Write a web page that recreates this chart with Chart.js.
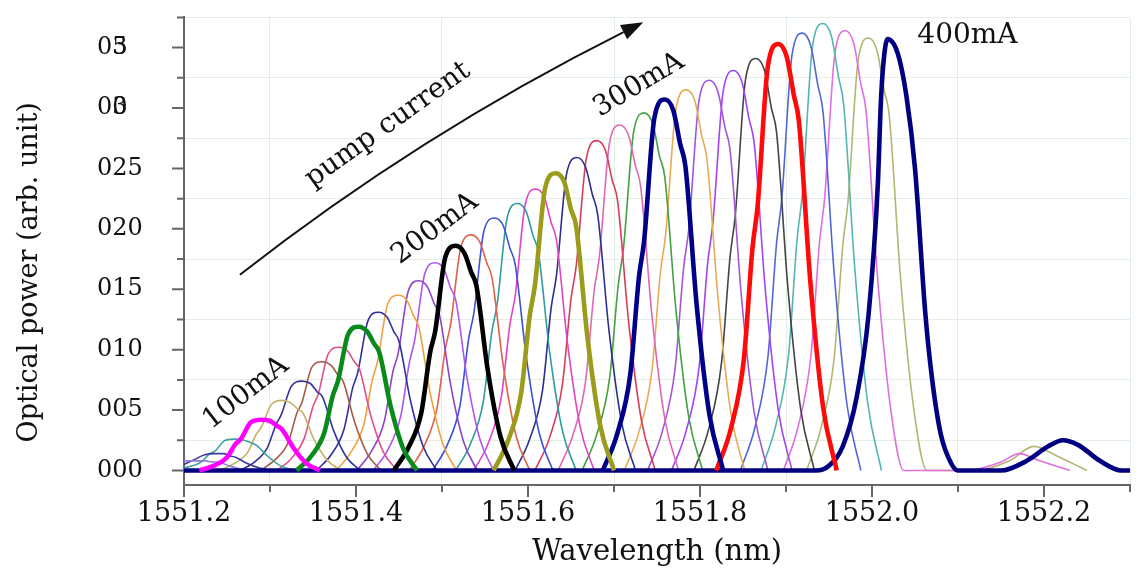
<!DOCTYPE html>
<html>
<head>
<meta charset="utf-8">
<title>Optical power vs wavelength</title>
<script src="https://cdn.jsdelivr.net/npm/chart.js@4.4.1/dist/chart.umd.min.js"></script>
<style>
html, body { margin: 0; padding: 0; background: #fff; }
#wrap { width: 1143px; height: 572px; }
</style>
</head>
<body>
<div id="wrap"><canvas id="spectraChart"></canvas></div>
<script>
// pump currents (mA), one spectrum each
const currents = [70, 80, 90, 100, 110, 120, 130, 140, 150, 160, 170, 180, 190, 200, 210, 220, 230, 240,
    250, 260, 270, 280, 290, 300, 310, 320, 330, 340, 350, 360, 370, 380, 390, 400];

// wavelength samples (nm) for each spectrum
const wavelengths = [
    [1551.143, 1551.160, 1551.175, 1551.185, 1551.191, 1551.203, 1551.215, 1551.225, 1551.233, 1551.239, 1551.252, 1551.267, 1551.283],
    [1551.164, 1551.181, 1551.196, 1551.206, 1551.212, 1551.224, 1551.236, 1551.246, 1551.254, 1551.260, 1551.273, 1551.288, 1551.304],
    [1551.188, 1551.205, 1551.220, 1551.230, 1551.236, 1551.248, 1551.260, 1551.270, 1551.278, 1551.284, 1551.297, 1551.312, 1551.328],
    [1551.218, 1551.235, 1551.250, 1551.260, 1551.266, 1551.278, 1551.290, 1551.300, 1551.308, 1551.314, 1551.327, 1551.342, 1551.358],
    [1551.242, 1551.259, 1551.274, 1551.284, 1551.290, 1551.302, 1551.314, 1551.324, 1551.332, 1551.338, 1551.351, 1551.366, 1551.382],
    [1551.265, 1551.282, 1551.297, 1551.307, 1551.313, 1551.325, 1551.337, 1551.347, 1551.355, 1551.361, 1551.374, 1551.389, 1551.405],
    [1551.289, 1551.306, 1551.321, 1551.331, 1551.337, 1551.349, 1551.361, 1551.371, 1551.379, 1551.385, 1551.398, 1551.413, 1551.429],
    [1551.308, 1551.325, 1551.340, 1551.350, 1551.356, 1551.368, 1551.380, 1551.390, 1551.398, 1551.404, 1551.417, 1551.432, 1551.448],
    [1551.331, 1551.348, 1551.363, 1551.373, 1551.379, 1551.391, 1551.403, 1551.413, 1551.421, 1551.427, 1551.440, 1551.455, 1551.471],
    [1551.354, 1551.371, 1551.386, 1551.396, 1551.402, 1551.414, 1551.426, 1551.436, 1551.444, 1551.450, 1551.463, 1551.478, 1551.494],
    [1551.377, 1551.394, 1551.409, 1551.419, 1551.425, 1551.437, 1551.449, 1551.459, 1551.467, 1551.473, 1551.486, 1551.501, 1551.517],
    [1551.401, 1551.418, 1551.433, 1551.443, 1551.449, 1551.461, 1551.473, 1551.483, 1551.491, 1551.497, 1551.510, 1551.525, 1551.541],
    [1551.420, 1551.437, 1551.452, 1551.462, 1551.468, 1551.480, 1551.492, 1551.502, 1551.510, 1551.516, 1551.529, 1551.544, 1551.560],
    [1551.444, 1551.461, 1551.476, 1551.486, 1551.492, 1551.504, 1551.516, 1551.526, 1551.534, 1551.540, 1551.553, 1551.568, 1551.584],
    [1551.462, 1551.479, 1551.494, 1551.504, 1551.510, 1551.522, 1551.534, 1551.544, 1551.552, 1551.558, 1551.571, 1551.586, 1551.602],
    [1551.489, 1551.506, 1551.521, 1551.531, 1551.537, 1551.549, 1551.561, 1551.571, 1551.579, 1551.585, 1551.598, 1551.613, 1551.629],
    [1551.516, 1551.533, 1551.548, 1551.558, 1551.564, 1551.576, 1551.588, 1551.598, 1551.606, 1551.612, 1551.625, 1551.640, 1551.656],
    [1551.537, 1551.554, 1551.569, 1551.579, 1551.585, 1551.597, 1551.609, 1551.619, 1551.627, 1551.633, 1551.646, 1551.661, 1551.677],
    [1551.560, 1551.577, 1551.592, 1551.602, 1551.608, 1551.620, 1551.632, 1551.642, 1551.650, 1551.656, 1551.669, 1551.684, 1551.700],
    [1551.585, 1551.602, 1551.617, 1551.627, 1551.633, 1551.645, 1551.657, 1551.667, 1551.675, 1551.681, 1551.694, 1551.709, 1551.725],
    [1551.608, 1551.625, 1551.640, 1551.650, 1551.656, 1551.668, 1551.680, 1551.690, 1551.698, 1551.704, 1551.717, 1551.732, 1551.748],
    [1551.635, 1551.652, 1551.667, 1551.677, 1551.683, 1551.695, 1551.707, 1551.717, 1551.725, 1551.731, 1551.744, 1551.759, 1551.775],
    [1551.663, 1551.680, 1551.695, 1551.705, 1551.711, 1551.723, 1551.735, 1551.745, 1551.753, 1551.759, 1551.772, 1551.787, 1551.803],
    [1551.687, 1551.704, 1551.719, 1551.729, 1551.735, 1551.747, 1551.759, 1551.769, 1551.777, 1551.783, 1551.796, 1551.811, 1551.827],
    [1551.712, 1551.729, 1551.744, 1551.754, 1551.760, 1551.772, 1551.784, 1551.794, 1551.802, 1551.808, 1551.821, 1551.836, 1551.852],
    [1551.739, 1551.756, 1551.771, 1551.781, 1551.787, 1551.799, 1551.811, 1551.821, 1551.829, 1551.835, 1551.848, 1551.863, 1551.879],
    [1551.767, 1551.784, 1551.799, 1551.809, 1551.815, 1551.827, 1551.839, 1551.849, 1551.857, 1551.863, 1551.876, 1551.891, 1551.907],
    [1551.793, 1551.810, 1551.825, 1551.835, 1551.841, 1551.853, 1551.865, 1551.875, 1551.883, 1551.889, 1551.902, 1551.917, 1551.933],
    [1551.819, 1551.836, 1551.851, 1551.861, 1551.867, 1551.879, 1551.891, 1551.901, 1551.909, 1551.915, 1551.928, 1551.943, 1551.959],
    [1551.847, 1551.864, 1551.879, 1551.889, 1551.895, 1551.907, 1551.919, 1551.929, 1551.937, 1551.943, 1551.956, 1551.971, 1551.987],
    [1551.871, 1551.888, 1551.903, 1551.913, 1551.919, 1551.931, 1551.943, 1551.953, 1551.961, 1551.967, 1551.980, 1551.995, 1552.011],
    [1551.897, 1551.914, 1551.929, 1551.939, 1551.945, 1551.957, 1551.969, 1551.979, 1551.987, 1551.993, 1552.006, 1552.021, 1552.037,
        1552.110, 1552.150, 1552.171, 1552.195, 1552.230],
    [1551.924, 1551.941, 1551.956, 1551.966, 1551.972, 1551.984, 1551.996, 1552.006, 1552.014, 1552.020, 1552.033, 1552.048, 1552.064,
        1552.120, 1552.160, 1552.188, 1552.215, 1552.250],
    [1551.200, 1551.935, 1551.950, 1551.966, 1551.982, 1551.996, 1552.007, 1552.010, 1552.013, 1552.018, 1552.030, 1552.040, 1552.050,
        1552.062, 1552.070, 1552.080, 1552.092, 1552.100, 1552.150, 1552.180, 1552.205, 1552.222, 1552.240, 1552.265, 1552.290, 1552.300]
];

// optical power (arb. unit) at those wavelengths
const powers = [
    [0, 0.001, 0.002, 0.004, 0.005, 0.008, 0.008, 0.008, 0.007, 0.007, 0.004, 0.001, 0],
    [0, 0.001, 0.004, 0.007, 0.009, 0.013, 0.014, 0.014, 0.012, 0.011, 0.006, 0.002, 0],
    [0, 0.003, 0.007, 0.014, 0.016, 0.025, 0.026, 0.025, 0.023, 0.021, 0.012, 0.004, 0],
    [0, 0.004, 0.011, 0.022, 0.026, 0.040, 0.042, 0.041, 0.037, 0.034, 0.019, 0.006, 0],
    [0, 0.006, 0.015, 0.030, 0.036, 0.055, 0.058, 0.056, 0.051, 0.048, 0.026, 0.009, 0],
    [0, 0.007, 0.019, 0.038, 0.046, 0.070, 0.074, 0.072, 0.065, 0.061, 0.033, 0.011, 0],
    [0, 0.009, 0.023, 0.047, 0.056, 0.086, 0.090, 0.087, 0.079, 0.074, 0.041, 0.014, 0],
    [0, 0.010, 0.027, 0.053, 0.063, 0.097, 0.102, 0.099, 0.090, 0.084, 0.046, 0.015, 0],
    [0, 0.012, 0.031, 0.062, 0.074, 0.113, 0.119, 0.115, 0.105, 0.098, 0.054, 0.018, 0],
    [0, 0.013, 0.034, 0.068, 0.081, 0.124, 0.131, 0.127, 0.115, 0.107, 0.059, 0.020, 0],
    [0, 0.015, 0.038, 0.075, 0.090, 0.138, 0.145, 0.141, 0.128, 0.119, 0.065, 0.022, 0],
    [0, 0.016, 0.041, 0.082, 0.097, 0.149, 0.157, 0.152, 0.138, 0.129, 0.071, 0.024, 0],
    [0, 0.017, 0.045, 0.089, 0.107, 0.163, 0.172, 0.167, 0.151, 0.141, 0.077, 0.026, 0],
    [0, 0.019, 0.048, 0.097, 0.115, 0.177, 0.186, 0.180, 0.164, 0.153, 0.084, 0.028, 0],
    [0, 0.020, 0.051, 0.101, 0.121, 0.185, 0.195, 0.189, 0.172, 0.160, 0.088, 0.029, 0],
    [0, 0.021, 0.054, 0.109, 0.130, 0.199, 0.209, 0.203, 0.184, 0.171, 0.094, 0.031, 0],
    [0, 0.022, 0.057, 0.115, 0.137, 0.210, 0.221, 0.214, 0.194, 0.181, 0.099, 0.033, 0],
    [0, 0.023, 0.061, 0.121, 0.144, 0.221, 0.233, 0.226, 0.205, 0.191, 0.105, 0.035, 0],
    [0, 0.025, 0.064, 0.128, 0.153, 0.234, 0.246, 0.239, 0.216, 0.202, 0.111, 0.037, 0],
    [0, 0.026, 0.067, 0.135, 0.161, 0.246, 0.259, 0.251, 0.228, 0.212, 0.117, 0.039, 0],
    [0, 0.027, 0.071, 0.142, 0.169, 0.259, 0.273, 0.265, 0.240, 0.224, 0.123, 0.041, 0],
    [0, 0.029, 0.074, 0.149, 0.177, 0.272, 0.286, 0.277, 0.252, 0.235, 0.129, 0.043, 0],
    [0, 0.030, 0.077, 0.154, 0.184, 0.281, 0.296, 0.287, 0.260, 0.243, 0.133, 0.044, 0],
    [0, 0.031, 0.080, 0.160, 0.190, 0.292, 0.307, 0.298, 0.270, 0.252, 0.138, 0.046, 0],
    [0, 0.032, 0.082, 0.164, 0.195, 0.299, 0.315, 0.306, 0.277, 0.258, 0.142, 0.047, 0],
    [0, 0.032, 0.084, 0.168, 0.200, 0.307, 0.323, 0.313, 0.284, 0.265, 0.145, 0.048, 0],
    [0, 0.033, 0.086, 0.172, 0.205, 0.314, 0.331, 0.321, 0.291, 0.271, 0.149, 0.050, 0],
    [0, 0.034, 0.089, 0.177, 0.211, 0.324, 0.341, 0.331, 0.300, 0.280, 0.153, 0.051, 0],
    [0, 0.035, 0.092, 0.184, 0.219, 0.335, 0.353, 0.342, 0.311, 0.289, 0.159, 0.053, 0],
    [0, 0.036, 0.094, 0.188, 0.224, 0.344, 0.362, 0.351, 0.319, 0.297, 0.163, 0.054, 0],
    [0, 0.037, 0.096, 0.192, 0.229, 0.352, 0.370, 0.359, 0.326, 0.303, 0.167, 0.056, 0],
    [0, 0.036, 0.095, 0.189, 0.226, 0.346, 0.364, 0.353, 0.320, 0.298, 0.164, 0.055, 0,
        0, 0.007, 0.014, 0.008, 0],
    [0, 0.036, 0.093, 0.186, 0.222, 0.340, 0.358, 0.347, 0.315, 0.294, 0.161, 0.054, 0,
        0, 0.008, 0.020, 0.012, 0],
    [0, 0, 0.004, 0.020, 0.060, 0.129, 0.240, 0.300, 0.335, 0.357, 0.345, 0.310, 0.250,
        0.130, 0.075, 0.030, 0.006, 0, 0, 0.008, 0.020, 0.025, 0.021, 0.008, 0, 0]
];

const lineColors = ['#8a7fd0', '#3c3c96', '#3fa0a0', '#ff00ff', '#c8b06a', '#34349a', '#a85a48', '#e0508c',
    '#0a8a1a', '#30309a', '#f0a040', '#8c44c8', '#b055f0', '#000000', '#e0604a', '#3c50d8', '#2e9c9c',
    '#e044c8', '#9c9c1c', '#2e2e90', '#d83c5c', '#e068b0', '#44a044', '#000088', '#e8aa55', '#a255d8',
    '#a044f4', '#444444', '#ff0a0a', '#5266d8', '#55b4b4', '#e070e0', '#b4b474', '#000080'];

// axis ticks
const xMajorTicks = [1551.2, 1551.4, 1551.6, 1551.8, 1552.0, 1552.2];
const xTickText = ['1551.2', '1551.4', '1551.6', '1551.8', '1552.0', '1552.2'];
const xMinorTicks = [1551.3, 1551.5, 1551.7, 1551.9, 1552.1, 1552.3];
const yMajorTicks = [0, 0.05, 0.10, 0.15, 0.20, 0.25, 0.30, 0.35];
const yTickText = ['000', '005', '010', '015', '020', '025', '03', '03'];
const yTickOverprint = ['', '', '', '', '', '', '0', '5'];
const yMinorTicks = [0.025, 0.075, 0.125, 0.175, 0.225, 0.275, 0.325, 0.375];

const notes = [
    { text: '100mA', x: 1551.272, y: 0.064, angle: -38 },
    { text: '200mA', x: 1551.492, y: 0.200, angle: -37 },
    { text: '300mA', x: 1551.729, y: 0.319, angle: -31 },
    { text: '400mA', x: 1552.111, y: 0.360, angle: 0 },
    { text: 'pump current', x: 1551.437, y: 0.286, angle: -35.5 }
];
const arrowPath = { start: [1551.265, 0.162], ctrl: [1551.473, 0.278], end: [1551.734, 0.371] };

const serif = '"DejaVu Serif", "Liberation Serif", serif';
const near = (a, b) => Math.abs(a - b) < 1e-6;
const isIn = (list, v) => list.some(t => near(t, v));

const tickMarks = {
    id: 'tickMarks',
    afterDraw(chart) {
        const { ctx, chartArea, scales } = chart;
        ctx.save();
        ctx.strokeStyle = '#666';
        ctx.lineWidth = 2;
        ctx.beginPath();
        scales.x.ticks.forEach(t => {
            const px = scales.x.getPixelForValue(t.value);
            const len = isIn(xMajorTicks, t.value) ? 12 : 7;
            ctx.moveTo(px, chartArea.bottom);
            ctx.lineTo(px, chartArea.bottom + len);
        });
        scales.y.ticks.forEach(t => {
            const py = scales.y.getPixelForValue(t.value);
            const len = isIn(yMajorTicks, t.value) ? 12 : 7;
            ctx.moveTo(chartArea.left, py);
            ctx.lineTo(chartArea.left - len, py);
        });
        ctx.stroke();

        // the two top labels have their last digits printed on top of each other
        ctx.font = '24px ' + serif;
        ctx.fillStyle = '#111';
        ctx.textAlign = 'left';
        ctx.textBaseline = 'middle';
        const zeroW = ctx.measureText('0').width;
        yMajorTicks.forEach((v, i) => {
            if (!yTickOverprint[i]) return;
            ctx.fillText(yTickOverprint[i], scales.y.left + zeroW, scales.y.getPixelForValue(v));
        });

        // y axis title
        ctx.font = '27px ' + serif;
        ctx.textAlign = 'center';
        ctx.translate(30, scales.y.getPixelForValue(0.164));
        ctx.rotate(-Math.PI / 2);
        ctx.fillText('Optical power (arb. unit)', 0, 0);
        ctx.restore();
    }
};

const annotations = {
    id: 'annotations',
    afterDatasetsDraw(chart) {
        const { ctx, scales: { x, y } } = chart;
        ctx.save();
        ctx.fillStyle = '#111';
        ctx.font = '28px ' + serif;
        ctx.textAlign = 'center';
        ctx.textBaseline = 'middle';
        notes.forEach(n => {
            ctx.save();
            ctx.translate(x.getPixelForValue(n.x), y.getPixelForValue(n.y));
            ctx.rotate(n.angle * Math.PI / 180);
            ctx.fillText(n.text, 0, 0);
            ctx.restore();
        });

        const p0 = [x.getPixelForValue(arrowPath.start[0]), y.getPixelForValue(arrowPath.start[1])];
        const c = [x.getPixelForValue(arrowPath.ctrl[0]), y.getPixelForValue(arrowPath.ctrl[1])];
        const p1 = [x.getPixelForValue(arrowPath.end[0]), y.getPixelForValue(arrowPath.end[1])];
        const ang = Math.atan2(p1[1] - c[1], p1[0] - c[0]);
        const headLen = 22, headW = 8;
        const base = [p1[0] - headLen * Math.cos(ang), p1[1] - headLen * Math.sin(ang)];
        ctx.strokeStyle = '#111';
        ctx.lineWidth = 2;
        ctx.beginPath();
        ctx.moveTo(p0[0], p0[1]);
        ctx.quadraticCurveTo(c[0], c[1], base[0], base[1]);
        ctx.stroke();
        ctx.beginPath();
        ctx.moveTo(p1[0], p1[1]);
        ctx.lineTo(base[0] + headW * Math.sin(ang), base[1] - headW * Math.cos(ang));
        ctx.lineTo(base[0] - headW * Math.sin(ang), base[1] + headW * Math.cos(ang));
        ctx.closePath();
        ctx.fill();
        ctx.restore();
    }
};

const datasets = currents.map((mA, i) => {
    const thick = mA >= 100 && mA % 50 === 0;
    return {
        label: mA + 'mA',
        data: wavelengths[i].map((w, j) => ({ x: w, y: powers[i][j] })),
        borderColor: lineColors[i],
        borderWidth: thick ? 4.6 : 1.6,
        pointRadius: 0,
        fill: false,
        cubicInterpolationMode: 'monotone',
        order: thick ? 0 : 1
    };
});

const ctx = document.getElementById('spectraChart').getContext('2d');
new Chart(ctx, {
    type: 'line',
    data: { datasets },
    options: {
        responsive: true,
        maintainAspectRatio: false,
        animation: false,
        layout: { padding: { left: 97, top: 12, right: 10, bottom: 0 } },
        plugins: { legend: { display: false }, tooltip: { enabled: false } },
        scales: {
            x: {
                type: 'linear',
                min: 1551.2,
                max: 1552.3,
                afterBuildTicks: scale => {
                    scale.ticks = [...xMajorTicks, ...xMinorTicks].sort((a, b) => a - b).map(v => ({ value: v }));
                },
                afterFit: scale => { scale.height = 87; },
                ticks: {
                    autoSkip: false,
                    maxRotation: 0,
                    minRotation: 0,
                    padding: 13,
                    color: '#111',
                    font: { family: serif, size: 27 },
                    callback: v => {
                        const i = xMajorTicks.findIndex(t => near(t, v));
                        return i >= 0 ? xTickText[i] : '';
                    }
                },
                grid: {
                    drawTicks: false,
                    color: c => (c.tick && isIn(xMinorTicks, c.tick.value)) ? 'rgba(205,225,205,0.55)' : 'rgba(0,0,0,0)'
                },
                border: { display: true, color: '#666', width: 2 },
                title: {
                    display: true,
                    text: 'Wavelength (nm)',
                    color: '#111',
                    font: { family: serif, size: 29 },
                    padding: { top: 0, bottom: 2 }
                }
            },
            y: {
                type: 'linear',
                min: -0.012,
                max: 0.375,
                afterBuildTicks: scale => {
                    scale.ticks = [...yMajorTicks, ...yMinorTicks].sort((a, b) => a - b).map(v => ({ value: v }));
                },
                afterFit: scale => { scale.width = 87; },
                ticks: {
                    autoSkip: false,
                    crossAlign: 'far',
                    color: '#111',
                    font: { family: serif, size: 24 },
                    callback: v => {
                        const i = yMajorTicks.findIndex(t => near(t, v));
                        return i >= 0 ? yTickText[i] : '';
                    }
                },
                grid: {
                    drawTicks: false,
                    color: c => (c.tick && isIn(yMinorTicks, c.tick.value)) ? 'rgba(205,225,205,0.55)' : 'rgba(0,0,0,0)'
                },
                border: { display: true, color: '#666', width: 2 }
            }
        }
    },
    plugins: [tickMarks, annotations]
});
</script>
</body>
</html>
